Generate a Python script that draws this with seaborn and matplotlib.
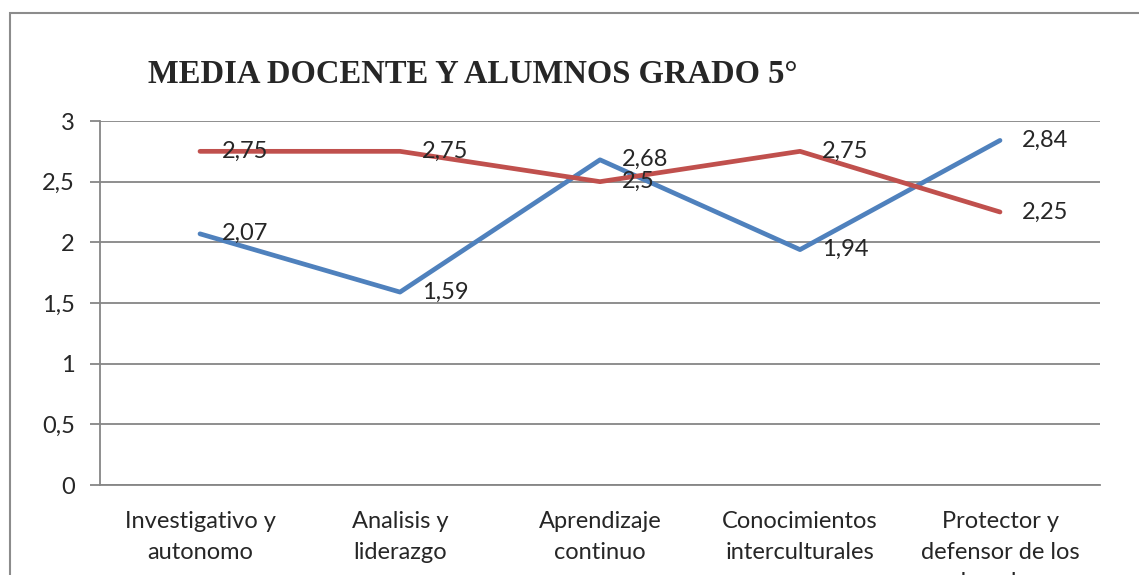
import pandas as pd
import seaborn as sns
import matplotlib.pyplot as plt
from matplotlib.patches import Rectangle

# data
categorias = ['Investigativo y\nautonomo', 'Analisis y\nliderazgo', 'Aprendizaje\ncontinuo',
              'Conocimientos\ninterculturales', 'Protector y\ndefensor de los\nderechos']
docente = [2.07, 1.59, 2.68, 1.94, 2.84]
alumnos = [2.75, 2.75, 2.5, 2.75, 2.25]
series = ['Docente', 'Alumnos']
colores = ['#4F81BD', '#C0504D']

df = pd.concat([
    pd.DataFrame({'cat': range(len(categorias)), 'valor': docente, 'serie': series[0]}),
    pd.DataFrame({'cat': range(len(categorias)), 'valor': alumnos, 'serie': series[1]}),
])

sns.set_style('white')
plt.rcParams['font.family'] = ['Lato', 'DejaVu Sans']
fs = 17

fig = plt.figure(figsize=(11.39, 5.75), dpi=100)
ax = fig.add_axes([100 / 1139, 1 - 485 / 575, 1000 / 1139, 364 / 575])

sns.lineplot(data=df, x='cat', y='valor', hue='serie', palette=colores,
             linewidth=3.4, legend=False, ax=ax, sort=False)

# data labels to the right of each point
for vals in (docente, alumnos):
    for i, v in enumerate(vals):
        ax.annotate(f'{v:g}'.replace('.', ','), (i, v), xytext=(16, 0),
                    textcoords='offset points', va='center', ha='left', fontsize=fs)

ax.set_xlim(-0.5, len(categorias) - 0.5)
ax.set_ylim(0, 3)
ax.set_yticks([0, 0.5, 1, 1.5, 2, 2.5, 3])
ax.set_yticklabels(['0', '0,5', '1', '1,5', '2', '2,5', '3'], fontsize=fs)
ax.set_xticks(range(len(categorias)))
ax.set_xticklabels(categorias, fontsize=fs, linespacing=1.55, va='top')
ax.set_xticks([i - 0.5 for i in range(len(categorias) + 1)], minor=True)
ax.tick_params(axis='x', which='major', length=0, pad=19)
ax.tick_params(axis='x', which='minor', length=7, width=1.3, color='#868686', direction='out')
ax.tick_params(axis='y', length=7, width=1.3, color='#868686', direction='out', left=True, pad=11)
ax.yaxis.grid(True, color='#868686', linewidth=1.3)
ax.set_axisbelow(True)
for s in ('top', 'right'):
    ax.spines[s].set_visible(False)
for s in ('left', 'bottom'):
    ax.spines[s].set_color('#868686')
    ax.spines[s].set_linewidth(1.3)
ax.set_xlabel('')
ax.set_ylabel('')

fig.text(148 / 1139, 1 - 74 / 575, 'MEDIA DOCENTE Y ALUMNOS GRADO 5°', fontsize=23.5,
         fontweight='bold', family='Liberation Serif', va='center', ha='left')

fig.patches.append(Rectangle((10 / 1139, -0.1), 1.2, 1.1 - 13 / 575, transform=fig.transFigure,
                             fill=False, edgecolor='#8c8c8c', linewidth=1.5))

fig.savefig('out.png', dpi=100)
